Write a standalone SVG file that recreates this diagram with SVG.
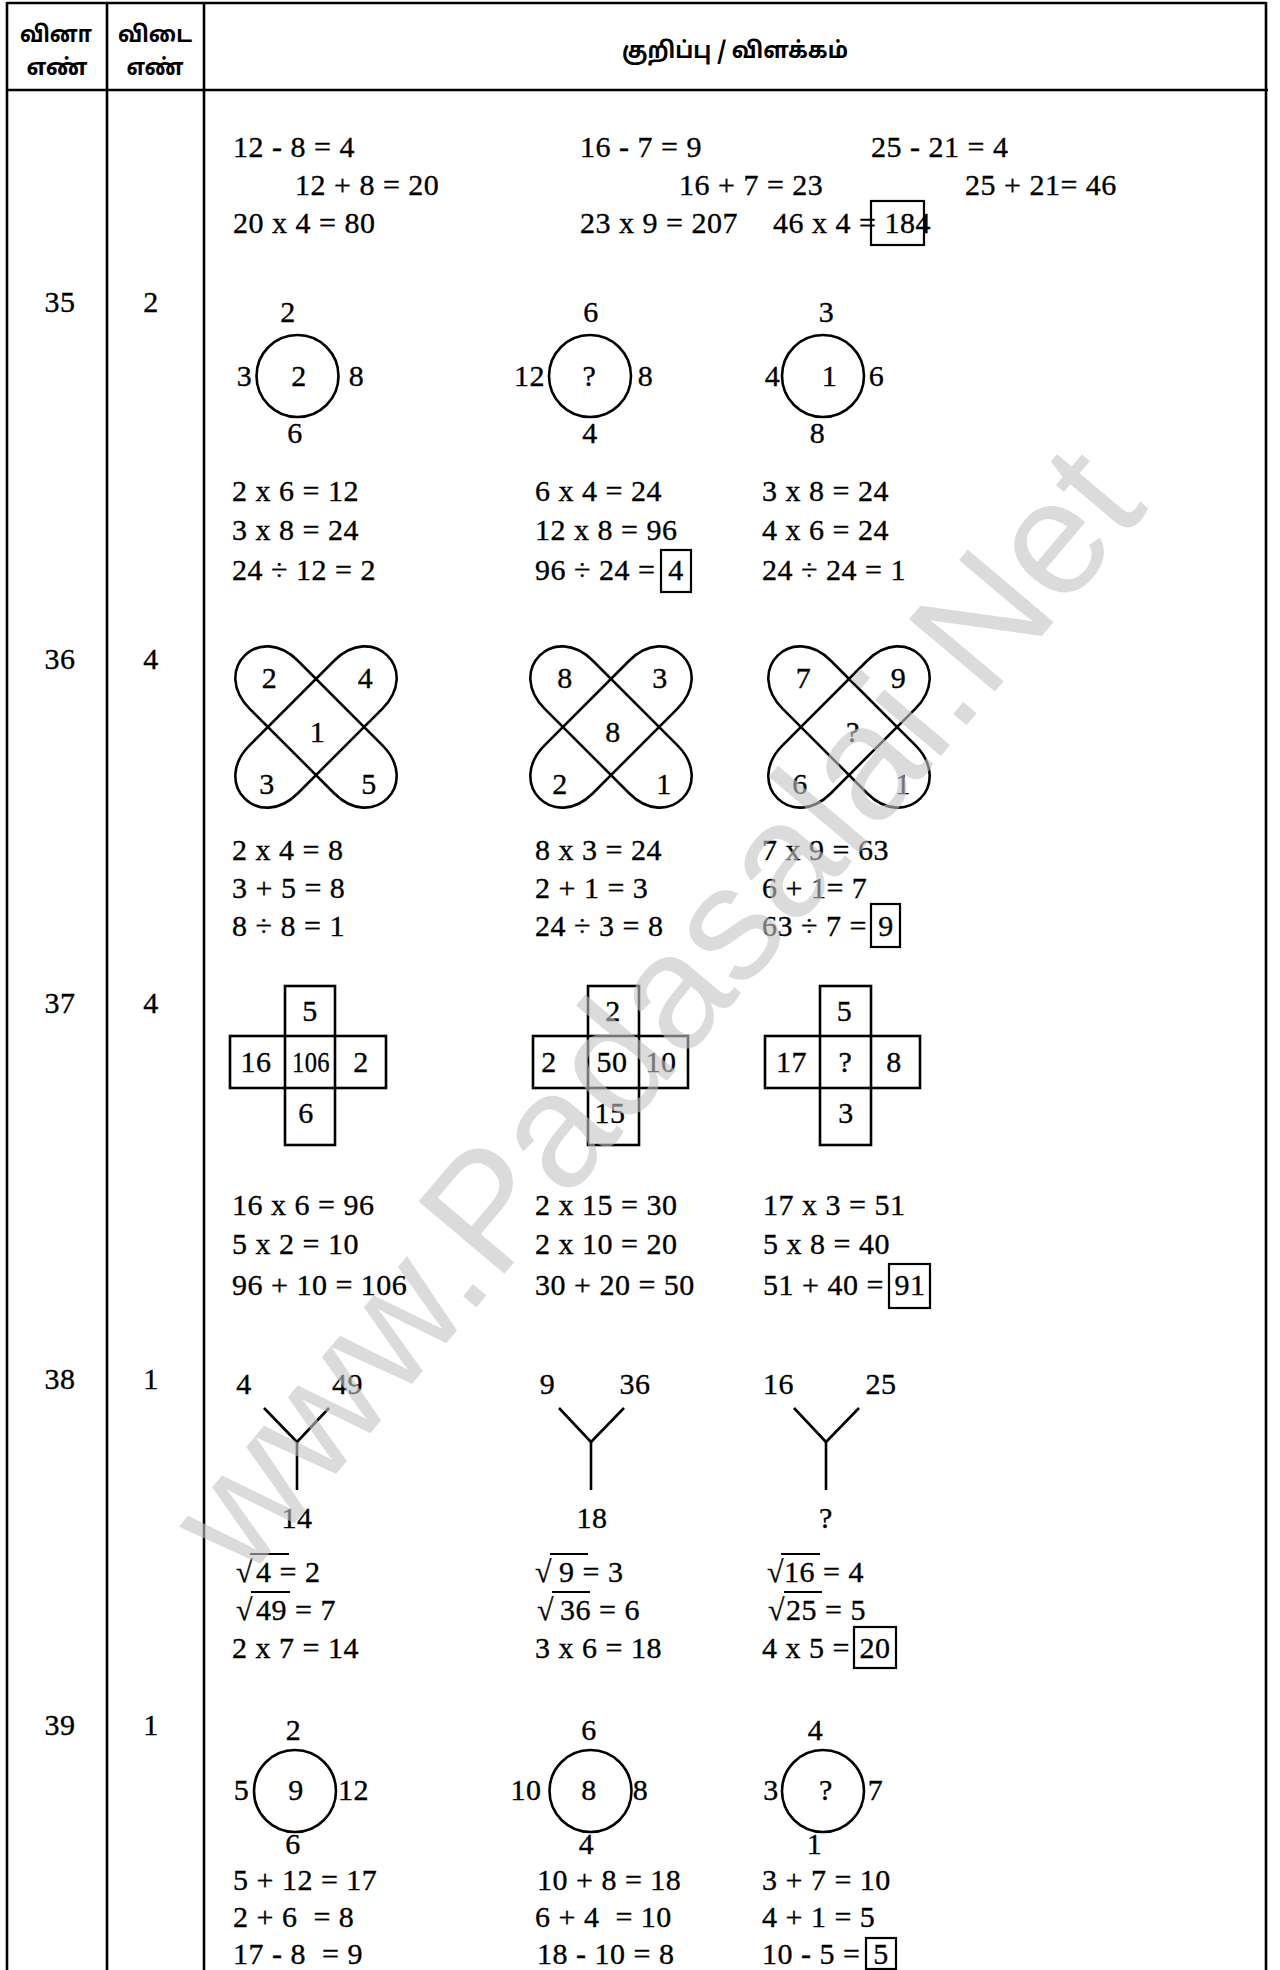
<svg xmlns="http://www.w3.org/2000/svg" xmlns:xlink="http://www.w3.org/1999/xlink" width="1280" height="1970" viewBox="0 0 1280 1970">
<style>
.t{font-family:"Liberation Serif","Times New Roman",serif;font-size:30px;fill:#000;stroke:#000;stroke-width:0.35;letter-spacing:0.5px}
.c{text-anchor:middle}
.h{font-family:"Noto Sans Tamil","Noto Sans",sans-serif;font-weight:bold;font-size:23px;fill:#000}
.g{fill:none;stroke:#000;stroke-width:2.6}
.b{fill:none;stroke:#000;stroke-width:2.2}
.ln{stroke:#000;stroke-width:2.6;fill:none}
.v{stroke:#000;stroke-width:2;fill:none}
.wm{font-family:"Liberation Sans",Arial,sans-serif;font-size:163px;fill:#c4c4c4;opacity:0.6}
</style>
<defs>
<path id="leaf" d="M -60,-34 L 60,-34 C 86,-34 101,-18 101,0 C 101,18 86,34 60,34 L -60,34 C -86,34 -101,18 -101,0 C -101,-18 -86,-34 -60,-34 Z"/>
</defs>
<rect width="1280" height="1970" fill="#fff"/>

<g id="table">
<line class="ln" x1="7" y1="3" x2="1266" y2="3"/>
<line class="ln" x1="7" y1="90" x2="1268" y2="90"/>
<line class="ln" x1="7" y1="2" x2="7" y2="1970"/>
<line class="ln" x1="107" y1="2" x2="107" y2="1970"/>
<line class="ln" x1="204" y1="2" x2="204" y2="1970"/>
<line class="ln" x1="1266" y1="2" x2="1266" y2="1970"/>
</g>

<g id="header">
<text class="h c" x="56" y="42" textLength="72" lengthAdjust="spacingAndGlyphs">வினா</text>
<text class="h c" x="57" y="75" textLength="61" lengthAdjust="spacingAndGlyphs">எண்</text>
<text class="h c" x="155" y="42" textLength="74" lengthAdjust="spacingAndGlyphs">விடை</text>
<text class="h c" x="155" y="75" textLength="57" lengthAdjust="spacingAndGlyphs">எண்</text>
<text class="h c" x="735" y="58" textLength="226" lengthAdjust="spacingAndGlyphs">குறிப்பு / விளக்கம்</text>
</g>

<g id="numbers">
<text class="t c" x="60" y="312">35</text><text class="t c" x="151" y="312">2</text>
<text class="t c" x="60" y="669">36</text><text class="t c" x="151" y="669">4</text>
<text class="t c" x="60" y="1013">37</text><text class="t c" x="151" y="1013">4</text>
<text class="t c" x="60" y="1389">38</text><text class="t c" x="151" y="1389">1</text>
<text class="t c" x="60" y="1735">39</text><text class="t c" x="151" y="1735">1</text>
</g>

<g id="q34">
<text class="t" x="233" y="157">12 - 8 = 4</text>
<text class="t" x="295" y="195">12 + 8 = 20</text>
<text class="t" x="233" y="233">20 x 4 = 80</text>
<text class="t" x="580" y="157">16 - 7 = 9</text>
<text class="t" x="679" y="195">16 + 7 = 23</text>
<text class="t" x="580" y="233">23 x 9 = 207</text>
<text class="t" x="773" y="233">46 x 4 = 184</text>
<rect class="b" x="871" y="201" width="53" height="44"/>
<text class="t" x="871" y="157">25 - 21 = 4</text>
<text class="t" x="965" y="195">25 + 21= 46</text>
</g>

<g id="q35">
<g id="q35-a">
<circle class="g" cx="297.5" cy="376" r="41"/>
<text class="t c" x="288" y="322">2</text>
<text class="t c" x="244.5" y="386">3</text>
<text class="t c" x="299" y="386">2</text>
<text class="t c" x="356.5" y="386">8</text>
<text class="t c" x="295" y="443">6</text>
</g>
<g id="q35-b">
<circle class="g" cx="590" cy="376" r="41"/>
<text class="t c" x="591" y="322">6</text>
<text class="t c" x="529.5" y="386">12</text>
<text class="t c" x="589.5" y="386">?</text>
<text class="t c" x="645.5" y="386">8</text>
<text class="t c" x="590" y="443">4</text>
</g>
<g id="q35-c">
<circle class="g" cx="823" cy="376" r="41"/>
<text class="t c" x="826.5" y="322">3</text>
<text class="t c" x="772.5" y="386">4</text>
<text class="t c" x="829.5" y="386">1</text>
<text class="t c" x="876.5" y="386">6</text>
<text class="t c" x="817.5" y="443">8</text>
</g>
<text class="t" x="232" y="501">2 x 6 = 12</text>
<text class="t" x="232" y="540">3 x 8 = 24</text>
<text class="t" x="232" y="580">24 ÷ 12 = 2</text>
<text class="t" x="535" y="501">6 x 4 = 24</text>
<text class="t" x="535" y="540">12 x 8 = 96</text>
<text class="t" x="535" y="580">96 ÷ 24 =</text>
<rect class="b" x="661" y="550" width="30" height="42"/>
<text class="t c" x="676" y="580">4</text>
<text class="t" x="762" y="501">3 x 8 = 24</text>
<text class="t" x="762" y="540">4 x 6 = 24</text>
<text class="t" x="762" y="580">24 ÷ 24 = 1</text>
</g>

<g id="q36">
<g id="q36-a">
<use xlink:href="#leaf" class="g" transform="translate(316 727) rotate(45)"/>
<use xlink:href="#leaf" class="g" transform="translate(316 727) rotate(-45)"/>
<text class="t c" x="269.5" y="688">2</text>
<text class="t c" x="365.5" y="688">4</text>
<text class="t c" x="317.5" y="742">1</text>
<text class="t c" x="267" y="794">3</text>
<text class="t c" x="369" y="794">5</text>
</g>
<g id="q36-b">
<use xlink:href="#leaf" class="g" transform="translate(611 727) rotate(45)"/>
<use xlink:href="#leaf" class="g" transform="translate(611 727) rotate(-45)"/>
<text class="t c" x="565" y="688">8</text>
<text class="t c" x="660" y="688">3</text>
<text class="t c" x="613" y="742">8</text>
<text class="t c" x="560" y="794">2</text>
<text class="t c" x="664" y="794">1</text>
</g>
<g id="q36-c">
<use xlink:href="#leaf" class="g" transform="translate(849 727) rotate(45)"/>
<use xlink:href="#leaf" class="g" transform="translate(849 727) rotate(-45)"/>
<text class="t c" x="803.5" y="688">7</text>
<text class="t c" x="898.5" y="688">9</text>
<text class="t c" x="853" y="742">?</text>
<text class="t c" x="800" y="794">6</text>
<text class="t c" x="903" y="794">1</text>
</g>
<text class="t" x="232" y="860">2 x 4 = 8</text>
<text class="t" x="232" y="898">3 + 5 = 8</text>
<text class="t" x="232" y="936">8 ÷ 8 = 1</text>
<text class="t" x="535" y="860">8 x 3 = 24</text>
<text class="t" x="535" y="898">2 + 1 = 3</text>
<text class="t" x="535" y="936">24 ÷ 3 = 8</text>
<text class="t" x="762" y="860">7 x 9 = 63</text>
<text class="t" x="762" y="898">6 + 1= 7</text>
<text class="t" x="762" y="936">63 ÷ 7 =</text>
<rect class="b" x="871" y="904" width="29" height="43"/>
<text class="t c" x="886" y="936">9</text>
</g>

<g id="q37">
<g id="q37-a">
<rect class="g" x="285" y="986" width="50" height="159"/>
<rect class="g" x="230" y="1036" width="156" height="52"/>
<text class="t c" x="310" y="1021">5</text>
<text class="t c" x="256" y="1072">16</text>
<text class="t c" x="311" y="1072" textLength="38" lengthAdjust="spacingAndGlyphs">106</text>
<text class="t c" x="361" y="1072">2</text>
<text class="t c" x="306" y="1123">6</text>
</g>
<g id="q37-b">
<rect class="g" x="588" y="986" width="51" height="159"/>
<rect class="g" x="533" y="1036" width="155" height="52"/>
<text class="t c" x="613" y="1021">2</text>
<text class="t c" x="549" y="1072">2</text>
<text class="t c" x="612" y="1072">50</text>
<text class="t c" x="661" y="1072">10</text>
<text class="t c" x="610" y="1123">15</text>
</g>
<g id="q37-c">
<rect class="g" x="820" y="986" width="51" height="159"/>
<rect class="g" x="765" y="1036" width="155" height="52"/>
<text class="t c" x="844.5" y="1021">5</text>
<text class="t c" x="791.5" y="1072">17</text>
<text class="t c" x="845.5" y="1072">?</text>
<text class="t c" x="894" y="1072">8</text>
<text class="t c" x="846" y="1123">3</text>
</g>
<text class="t" x="232" y="1215">16 x 6 = 96</text>
<text class="t" x="232" y="1254">5 x 2 = 10</text>
<text class="t" x="232" y="1295">96 + 10 = 106</text>
<text class="t" x="535" y="1215">2 x 15 = 30</text>
<text class="t" x="535" y="1254">2 x 10 = 20</text>
<text class="t" x="535" y="1295">30 + 20 = 50</text>
<text class="t" x="763" y="1215">17 x 3 = 51</text>
<text class="t" x="763" y="1254">5 x 8 = 40</text>
<text class="t" x="763" y="1295">51 + 40 =</text>
<rect class="b" x="889" y="1264" width="41" height="44"/>
<text class="t c" x="910" y="1295">91</text>
</g>

<g id="q38">
<g id="q38-a">
<polyline class="g" points="264,1408 297,1442 329,1408"/>
<line class="g" x1="297" y1="1442" x2="297" y2="1490"/>
<text class="t c" x="244" y="1394">4</text>
<text class="t c" x="347.5" y="1394">49</text>
<text class="t c" x="297" y="1528">14</text>
</g>
<g id="q38-b">
<polyline class="g" points="559,1408 591,1442 624,1408"/>
<line class="g" x1="591" y1="1442" x2="591" y2="1490"/>
<text class="t c" x="547.5" y="1394">9</text>
<text class="t c" x="635" y="1394">36</text>
<text class="t c" x="592" y="1528">18</text>
</g>
<g id="q38-c">
<polyline class="g" points="794,1408 826,1442 859,1408"/>
<line class="g" x1="826" y1="1442" x2="826" y2="1490"/>
<text class="t c" x="778.5" y="1394">16</text>
<text class="t c" x="881" y="1394">25</text>
<text class="t c" x="826" y="1528">?</text>
</g>
<text class="t" y="1582"><tspan x="236">√</tspan><tspan x="256">4 = 2</tspan></text>
<line class="v" x1="250" y1="1554" x2="289" y2="1554"/>
<text class="t" y="1620"><tspan x="236">√</tspan><tspan x="256">49 = 7</tspan></text>
<line class="v" x1="251" y1="1592" x2="290" y2="1592"/>
<text class="t" x="232" y="1658">2 x 7 = 14</text>
<text class="t" y="1582"><tspan x="535">√</tspan><tspan x="559">9 = 3</tspan></text>
<line class="v" x1="550" y1="1554" x2="588" y2="1554"/>
<text class="t" y="1620"><tspan x="537">√</tspan><tspan x="560">36 = 6</tspan></text>
<line class="v" x1="552" y1="1592" x2="590" y2="1592"/>
<text class="t" x="535" y="1658">3 x 6 = 18</text>
<text class="t" y="1582"><tspan x="767">√</tspan><tspan x="784">16 = 4</tspan></text>
<line class="v" x1="781" y1="1554" x2="820" y2="1554"/>
<text class="t" y="1620"><tspan x="768">√</tspan><tspan x="786">25 = 5</tspan></text>
<line class="v" x1="784" y1="1592" x2="822" y2="1592"/>
<text class="t" x="762" y="1658">4 x 5 =</text>
<rect class="b" x="854" y="1627" width="42" height="41"/>
<text class="t c" x="875" y="1658">20</text>
</g>

<g id="q39">
<g id="q39-a">
<circle class="g" cx="295" cy="1791" r="41"/>
<text class="t c" x="293.5" y="1740">2</text>
<text class="t c" x="241.5" y="1800">5</text>
<text class="t c" x="296" y="1800">9</text>
<text class="t c" x="353.5" y="1800">12</text>
<text class="t c" x="293" y="1854">6</text>
</g>
<g id="q39-b">
<circle class="g" cx="590.5" cy="1791" r="41"/>
<text class="t c" x="589" y="1740">6</text>
<text class="t c" x="526" y="1800">10</text>
<text class="t c" x="589" y="1800">8</text>
<text class="t c" x="640.5" y="1800">8</text>
<text class="t c" x="586.5" y="1854">4</text>
</g>
<g id="q39-c">
<circle class="g" cx="823" cy="1791" r="41"/>
<text class="t c" x="815.5" y="1740">4</text>
<text class="t c" x="771" y="1800">3</text>
<text class="t c" x="826" y="1800">?</text>
<text class="t c" x="875.5" y="1800">7</text>
<text class="t c" x="814.5" y="1854">1</text>
</g>
<text class="t" x="233" y="1890">5 + 12 = 17</text>
<text class="t" x="233" y="1927" xml:space="preserve">2 + 6  = 8</text>
<text class="t" x="233" y="1964" xml:space="preserve">17 - 8  = 9</text>
<text class="t" x="537" y="1890">10 + 8 = 18</text>
<text class="t" x="535" y="1927" xml:space="preserve">6 + 4  = 10</text>
<text class="t" x="537" y="1964">18 - 10 = 8</text>
<text class="t" x="762" y="1890">3 + 7 = 10</text>
<text class="t" x="762" y="1927">4 + 1 = 5</text>
<text class="t" x="762" y="1964">10 - 5 =</text>
<rect class="b" x="866" y="1938" width="30" height="31"/>
<text class="t c" x="881" y="1964">5</text>
</g>

<text class="wm" transform="translate(245 1582) rotate(-49.9)">www.Padasalai.Net</text>
</svg>
